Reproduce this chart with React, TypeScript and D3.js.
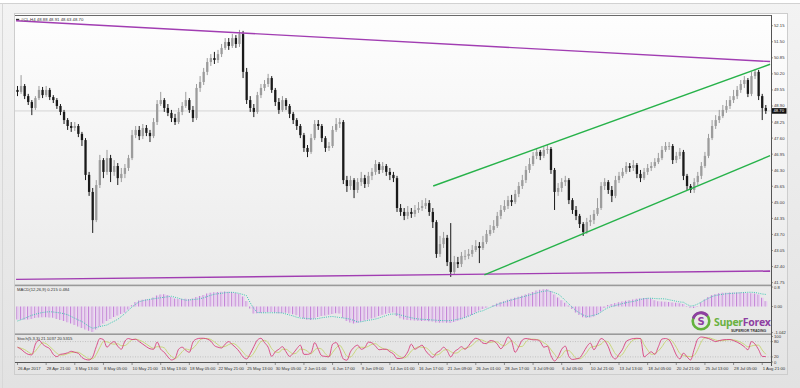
import React from 'react';
import * as d3 from 'd3';

const W = 800;
const H = 388;

const firstOpen = 49.55;

const closes = [
  49.47,49.71,49.30,49.06,48.82,49.22,49.55,49.34,49.55,49.26,
  49.14,48.90,48.66,48.33,48.09,48.01,48.09,47.77,47.52,46.11,
  45.42,44.28,45.70,46.71,46.23,46.79,46.23,46.47,45.98,46.15,
  46.39,46.79,47.72,47.93,47.68,48.01,47.81,47.68,48.25,48.98,
  49.14,48.82,48.62,48.41,48.25,48.66,48.90,49.14,48.74,48.41,
  49.63,49.87,50.28,50.68,50.84,50.76,51.00,51.25,51.49,51.33,
  51.65,51.41,51.81,50.28,49.14,48.82,48.66,49.34,49.63,49.79,
  50.03,49.55,49.06,48.74,49.14,48.90,48.58,48.33,48.09,47.72,
  47.20,47.04,47.60,48.17,48.09,47.60,47.20,47.28,47.93,48.17,
  48.25,45.90,45.66,45.90,45.50,45.82,45.98,45.74,46.07,46.23,
  46.55,46.31,46.47,46.23,46.11,45.98,44.77,44.61,44.45,44.61,
  44.53,44.69,44.77,44.85,44.97,44.61,44.20,42.91,43.31,43.56,
  42.58,42.18,42.58,42.50,42.83,42.83,42.91,43.07,43.23,43.15,
  43.39,43.72,43.88,44.04,44.45,44.69,44.85,45.09,45.01,45.34,
  45.66,45.90,46.31,46.55,46.88,47.04,46.88,47.12,47.16,46.31,
  45.42,45.58,45.82,45.90,45.09,44.69,44.45,44.12,43.80,44.20,
  44.28,44.53,44.77,45.66,45.82,45.50,45.26,45.90,46.07,46.23,
  46.47,46.39,46.51,46.15,45.98,46.23,46.39,46.47,46.63,46.79,
  47.12,47.28,47.28,46.71,46.88,47.04,46.07,45.66,45.50,45.82,
  46.07,46.47,46.88,47.60,48.09,48.33,48.49,48.74,48.90,49.14,
  49.30,49.55,49.79,49.95,49.39,50.11,50.28,49.30,48.82,48.70,
];

const highs = [
  49.71,50.15,49.79,49.39,49.14,49.30,49.71,49.67,49.71,49.63,
  49.34,49.22,48.98,48.74,48.41,48.25,48.25,48.17,47.85,47.60,
  46.23,45.58,45.90,46.92,46.79,47.12,46.92,46.71,46.59,46.39,
  46.55,46.92,47.93,48.09,48.09,48.17,48.13,47.93,48.41,49.14,
  49.47,49.22,48.98,48.74,48.58,48.82,49.06,49.47,49.22,48.90,
  49.79,50.11,50.44,50.84,51.00,51.09,51.17,51.41,51.65,51.65,
  51.81,51.77,51.98,51.94,50.44,49.30,48.98,49.47,49.79,49.95,
  50.20,50.11,49.63,49.22,49.30,49.22,48.98,48.66,48.41,48.17,
  47.81,47.32,47.77,48.33,48.33,48.17,47.68,47.44,48.09,48.41,
  48.41,48.33,46.07,46.07,45.98,45.98,46.23,46.11,46.23,46.39,
  46.71,46.63,46.63,46.55,46.39,46.23,46.07,44.93,44.77,44.85,
  44.77,44.89,45.01,45.09,45.17,45.09,44.77,44.28,43.64,43.80,
  43.68,44.16,42.83,42.79,42.99,43.07,43.11,43.27,43.47,43.39,
  43.64,43.88,44.08,44.28,44.61,44.89,45.09,45.26,45.30,45.50,
  45.82,46.11,46.47,46.79,47.04,47.20,47.12,47.24,47.32,47.24,
  46.39,45.78,45.98,46.07,45.98,45.17,44.85,44.53,44.20,44.37,
  44.49,44.69,45.17,45.82,45.98,45.90,45.66,46.07,46.23,46.39,
  46.63,46.59,46.71,46.59,46.31,46.39,46.55,46.63,46.79,47.00,
  47.28,47.44,47.44,47.36,47.04,47.20,47.12,46.15,45.74,45.98,
  46.23,46.63,47.04,47.77,48.33,48.53,48.74,48.94,49.14,49.30,
  49.55,49.71,49.95,50.11,50.03,50.28,50.40,50.36,49.39,48.94,
];

const lows = [
  49.30,49.39,49.18,48.94,48.53,48.74,49.14,49.22,49.26,49.14,
  49.02,48.78,48.53,48.17,47.93,47.85,47.89,47.64,47.28,45.90,
  45.26,43.76,44.20,45.58,45.98,46.11,45.82,46.07,45.70,45.82,
  45.98,46.27,46.71,47.60,47.52,47.56,47.68,47.44,47.60,48.13,
  48.90,48.66,48.49,48.25,48.13,48.17,48.53,48.82,48.62,48.25,
  48.33,49.47,49.75,50.15,50.52,50.60,50.64,50.88,51.17,51.17,
  51.25,51.25,51.29,50.03,48.98,48.66,48.45,48.58,49.22,49.51,
  49.67,49.43,48.90,48.58,48.66,48.74,48.41,48.17,47.93,47.60,
  47.04,46.83,46.96,47.52,47.93,47.44,47.04,47.08,47.20,47.85,
  48.01,45.74,45.42,45.50,45.17,45.38,45.66,45.58,45.62,45.90,
  46.11,46.15,46.19,46.07,45.90,45.82,44.61,44.45,44.28,44.32,
  44.37,44.41,44.57,44.65,44.73,44.45,43.96,42.75,42.79,43.15,
  42.42,41.98,42.06,42.34,42.38,42.66,42.70,42.79,42.99,42.54,
  43.07,43.31,43.64,43.76,43.96,44.32,44.61,44.73,44.85,44.93,
  45.21,45.54,45.78,46.19,46.47,46.75,46.71,46.79,46.96,46.15,
  44.69,45.26,45.42,45.66,44.93,44.53,44.28,43.96,43.64,43.72,
  44.04,44.12,44.45,44.69,45.50,45.34,45.01,45.17,45.78,45.98,
  46.15,46.23,46.27,45.98,45.82,45.90,46.11,46.27,46.39,46.55,
  46.71,47.04,47.12,46.55,46.59,46.75,45.90,45.50,45.38,45.38,
  45.70,45.94,46.39,46.79,47.52,47.97,48.21,48.41,48.62,48.78,
  49.02,49.18,49.43,49.63,49.26,49.30,49.99,49.14,48.33,48.58,
];

const macdMain = [
  -0.52,-0.53,-0.53,-0.52,-0.50,-0.46,-0.44,-0.43,-0.43,-0.44,
  -0.45,-0.50,-0.54,-0.58,-0.63,-0.68,-0.74,-0.80,-0.86,-0.92,
  -0.97,-1.02,-0.92,-0.80,-0.68,-0.58,-0.50,-0.42,-0.36,-0.30,
  -0.24,-0.12,0.05,0.18,0.24,0.27,0.29,0.30,0.36,0.44,
  0.48,0.49,0.46,0.38,0.32,0.30,0.30,0.31,0.30,0.32,
  0.38,0.42,0.46,0.52,0.55,0.57,0.58,0.59,0.60,0.59,
  0.58,0.54,0.50,0.40,0.22,-0.08,-0.28,-0.27,-0.25,-0.23,
  -0.22,-0.22,-0.24,-0.27,-0.26,-0.25,-0.28,-0.31,-0.35,-0.42,
  -0.48,-0.53,-0.54,-0.48,-0.42,-0.38,-0.36,-0.33,-0.30,-0.27,
  -0.28,-0.45,-0.58,-0.64,-0.68,-0.66,-0.60,-0.56,-0.52,-0.48,
  -0.44,-0.38,-0.33,-0.29,-0.26,-0.24,-0.38,-0.47,-0.52,-0.54,
  -0.55,-0.56,-0.57,-0.58,-0.58,-0.59,-0.60,-0.64,-0.65,-0.64,
  -0.65,-0.66,-0.62,-0.57,-0.52,-0.46,-0.40,-0.34,-0.24,-0.16,
  -0.10,-0.05,0.00,0.06,0.12,0.18,0.22,0.27,0.31,0.35,
  0.39,0.43,0.48,0.53,0.58,0.64,0.67,0.69,0.70,0.62,
  0.48,0.36,0.25,0.15,0.04,-0.10,-0.24,-0.34,-0.43,-0.46,
  -0.44,-0.40,-0.33,-0.20,-0.06,0.06,0.10,0.14,0.17,0.20,
  0.23,0.25,0.28,0.31,0.33,0.34,0.34,0.32,0.25,0.21,
  0.20,0.19,0.18,0.16,0.15,0.13,0.10,0.02,-0.05,-0.06,
  0.02,0.16,0.28,0.38,0.45,0.50,0.53,0.55,0.55,0.56,
  0.56,0.56,0.56,0.55,0.54,0.53,0.52,0.48,0.35,0.215,
];

const macdSignal = [
  -0.58,-0.53,-0.47,-0.41,-0.35,-0.31,-0.27,-0.24,-0.22,-0.21,
  -0.22,-0.24,-0.26,-0.29,-0.33,-0.40,-0.47,-0.54,-0.60,-0.70,
  -0.80,-0.87,-0.84,-0.80,-0.77,-0.74,-0.66,-0.59,-0.51,-0.40,
  -0.28,-0.15,-0.02,0.09,0.19,0.23,0.26,0.29,0.31,0.33,
  0.35,0.37,0.39,0.41,0.37,0.33,0.29,0.25,0.26,0.28,
  0.29,0.31,0.35,0.40,0.45,0.49,0.51,0.53,0.55,0.56,
  0.57,0.55,0.52,0.48,0.43,0.15,-0.08,-0.24,-0.25,-0.25,
  -0.25,-0.25,-0.25,-0.25,-0.26,-0.30,-0.34,-0.38,-0.43,-0.46,
  -0.47,-0.48,-0.49,-0.50,-0.48,-0.45,-0.43,-0.41,-0.40,-0.42,
  -0.44,-0.46,-0.48,-0.51,-0.56,-0.62,-0.61,-0.58,-0.55,-0.53,
  -0.50,-0.46,-0.41,-0.36,-0.31,-0.30,-0.30,-0.34,-0.38,-0.42,
  -0.45,-0.48,-0.50,-0.51,-0.52,-0.53,-0.54,-0.55,-0.56,-0.56,
  -0.57,-0.56,-0.54,-0.51,-0.48,-0.44,-0.38,-0.32,-0.26,-0.20,
  -0.17,-0.10,-0.04,0.02,0.08,0.13,0.17,0.22,0.26,0.30,
  0.34,0.38,0.42,0.46,0.50,0.54,0.58,0.61,0.63,0.60,
  0.55,0.50,0.38,0.24,0.10,-0.03,-0.17,-0.26,-0.34,-0.40,
  -0.38,-0.35,-0.31,-0.22,-0.12,-0.04,0.00,0.04,0.08,0.12,
  0.15,0.18,0.20,0.24,0.28,0.31,0.33,0.33,0.32,0.31,
  0.31,0.30,0.27,0.24,0.21,0.18,0.17,0.08,0.02,0.04,
  0.10,0.18,0.26,0.33,0.40,0.44,0.47,0.49,0.51,0.52,
  0.53,0.54,0.55,0.56,0.57,0.57,0.56,0.53,0.50,0.484,
];

const stochMain = [
  58,50,38,30,28,70,86,70,60,52,
  30,21,30,32,36,42,38,34,18,10,
  8,20,60,92,88,58,72,80,62,50,
  82,92,88,89,80,70,60,52,50,78,
  50,38,20,8,14,50,58,46,38,78,
  90,93,93,90,82,64,58,55,70,80,
  68,56,40,20,12,32,60,86,93,76,
  58,22,40,50,60,40,22,34,52,66,
  30,30,36,76,50,24,22,20,70,76,
  50,12,7,40,58,66,50,56,78,75,
  62,48,50,50,40,32,14,14,20,40,
  70,50,58,66,44,28,18,36,44,58,
  44,20,40,50,60,50,64,82,93,88,
  74,72,84,82,70,52,70,98,82,38,
  60,86,92,90,87,87,80,58,62,25,
  4,20,50,62,22,10,12,16,36,60,
  74,48,70,92,84,60,24,12,30,50,
  80,88,92,93,92,20,30,40,30,60,
  90,92,86,60,28,12,35,20,8,50,
  90,98,96,92,86,80,84,87,88,88,
  84,78,70,60,48,80,70,48,22,21.1,
];

// Stoch(5,3,3) signal line: 3-bar moving average of the main line, as the indicator defines it
const stochSignal = stochMain.map((_, i) => {
  const w = stochMain.slice(Math.max(0, i - 2), i + 1);
  return d3.mean(w) as number;
});

const priceTicks = [
  '52.15','51.50','50.85','50.20','49.55','48.90','48.25','47.60','46.95',
  '46.30','45.65','45.00','44.35','43.70','43.05','42.40','41.75',
];

const timeLabels = [
  '26 Apr 2017','28 Apr 21:00','3 May 13:00','8 May 05:00','10 May 21:00',
  '15 May 13:00','18 May 05:00','22 May 21:00','25 May 13:00','30 May 05:00',
  '2 Jun 01:00','6 Jun 17:00','9 Jun 09:00','14 Jun 01:00','16 Jun 17:00',
  '21 Jun 09:00','26 Jun 01:00','28 Jun 17:00','3 Jul 09:00','6 Jul 05:00',
  '10 Jul 21:00','13 Jul 13:00','18 Jul 05:00','20 Jul 21:00','25 Jul 13:00',
  '28 Jul 05:00','1 Aug 21:00',
];
const barsPerLabel = 8;

// trend lines: [bar index, price]
const resistanceLine = [[-0.4, 52.35], [210.2, 50.70]];
const supportLine = [[-0.4, 41.88], [210.2, 42.22]];
const channelTop = [[116.1, 45.66], [210.2, 50.59]];
const channelBottom = [[130.4, 42.06], [210.2, 46.89]];

const macdLevels = ['0.8', '0.00', '-1.042'];
const macdLevelValues = [0.78, 0, -1.042];
const stochLevels = ['100', '80', '20', '0'];
const stochLevelValues = [100, 80, 20, 0];

const headerText = '#CL,H4  48.88 48.91 48.63 48.70';
const macdText = 'MACD(12,26,9) 0.215 0.484';
const stochText = 'Stoch(5,3,3) 21.1037 20.5315';

const FONT = 'Liberation Sans, Arial, sans-serif';

export default function App() {
  const L = 15, R = 771;
  const n = closes.length;
  const x = d3.scaleLinear().domain([0, n - 1]).range([17.5, 765.8]);
  const yP = d3.scaleLinear().domain([41.75, 52.15]).range([282.6, 25.7]);
  const yM = d3.scaleLinear().domain([-1.06, 0.78]).range([333, 287]);
  const yS = d3.scaleLinear().domain([0, 100]).range([362, 336.5]);

  const opens = closes.map((c, i) => (i === 0 ? firstOpen : closes[i - 1]));

  const lineGen = d3.line<number[]>().x(d => x(d[0])).y(d => yP(d[1]));
  const sigLine = d3.line<number>().x((_, i) => x(i)).y(d => yM(d));
  const stLine = d3.line<number>().x((_, i) => x(i)).y(d => yS(d)).curve(d3.curveMonotoneX);

  const lastClose = closes[n - 1];

  return (
    <svg width={W} height={H} style={{ position: 'absolute', left: 0, top: 0 }} fontFamily={FONT}>
      <defs>
        <linearGradient id="bg" x1="0" y1="0" x2="0" y2="1">
          <stop offset="0" stopColor="#fefefe" />
          <stop offset="1" stopColor="#e4e4e4" />
        </linearGradient>
        <linearGradient id="outer" x1="0" y1="0" x2="0" y2="1">
          <stop offset="0" stopColor="#f3f3f3" />
          <stop offset="1" stopColor="#e2e2e2" />
        </linearGradient>
        <clipPath id="pc"><rect x={L} y={15.5} width={R - L} height={269} /></clipPath>
        <clipPath id="mc"><rect x={L} y={286} width={R - L} height={47.5} /></clipPath>
        <clipPath id="sc"><rect x={L} y={335} width={R - L} height={27.5} /></clipPath>
      </defs>
      <rect x={0} y={0} width={W} height={H} fill="url(#outer)" />
      <rect x={0} y={0} width={W} height={3} fill="#ffffff" />
      <line x1={0} x2={W} y1={3.5} y2={3.5} stroke="#d2d2d2" />
      <line x1={2.5} x2={2.5} y1={3.5} y2={H} stroke="#d8d8d8" />
      <rect x={14.5} y={13.5} width={773} height={361} fill="url(#bg)" stroke="#cdcdcd" />

      {/* price panel */}
      <line x1={L} x2={R} y1={15.5} y2={15.5} stroke="#6a6a6a" />
      <line x1={L} x2={R} y1={yP(lastClose)} y2={yP(lastClose)} stroke="#cccccc" strokeWidth={0.8} />
      <g clipPath="url(#pc)">
        {closes.map((c, i) => {
          const o = opens[i];
          const up = c >= o;
          const col = up ? '#9c9c9c' : '#1a1a1a';
          const top = yP(Math.max(o, c));
          const bot = yP(Math.min(o, c));
          return (
            <g key={i}>
              <line x1={x(i)} x2={x(i)} y1={yP(highs[i])} y2={yP(lows[i])} stroke={col} strokeWidth={1} />
              <rect x={x(i) - 1.15} y={top} width={2.3} height={Math.max(0.8, bot - top)} fill={col} />
            </g>
          );
        })}
        <path d={lineGen(resistanceLine) || ''} stroke="#a13db2" strokeWidth={1.4} fill="none" />
        <path d={lineGen(supportLine) || ''} stroke="#a13db2" strokeWidth={1.4} fill="none" />
        <path d={lineGen(channelTop) || ''} stroke="#27b24a" strokeWidth={1.4} fill="none" />
        <path d={lineGen(channelBottom) || ''} stroke="#27b24a" strokeWidth={1.4} fill="none" />
      </g>
      <rect x={16} y={18.8} width={3.2} height={1.3} fill="#333" />
      <text x={21} y={21.2} fontSize={4.3} fill="#333">{headerText}</text>

      {/* price axis */}
      {priceTicks.map(t => (
        <g key={t}>
          <line x1={R} x2={R + 2} y1={yP(+t)} y2={yP(+t)} stroke="#555" strokeWidth={0.6} />
          <text x={R + 3} y={yP(+t) + 1.5} fontSize={4.2} fill="#333">{t}</text>
        </g>
      ))}
      <rect x={R + 1} y={yP(lastClose) - 2.8} width={14.5} height={5.6} fill="#111" />
      <text x={R + 2.5} y={yP(lastClose) + 1.5} fontSize={4.2} fill="#fff">{lastClose.toFixed(2)}</text>

      {/* separators */}
      <rect x={L} y={284.6} width={R - L} height={1.6} fill="#9a9a9a" />
      <rect x={L} y={333.4} width={R - L} height={1.6} fill="#9a9a9a" />

      {/* MACD */}
      <g clipPath="url(#mc)">
        {macdMain.map((v, i) => {
          const y0 = yM(0);
          const y1 = yM(v);
          return (
            <g key={i}>
              <rect x={x(i) - 1.2} y={Math.min(y0, y1)} width={1.1} height={Math.abs(y1 - y0)} fill="#c486d6" />
              <rect x={x(i) - 0.1} y={Math.min(y0, y1)} width={1.6} height={Math.abs(y1 - y0)} fill="#e8ccf2" />
            </g>
          );
        })}
        <path d={sigLine(macdSignal) || ''} stroke="#3cc6b2" strokeWidth={1} strokeDasharray="1,1.2" fill="none" />
      </g>
      <text x={17} y={291} fontSize={4.2} fill="#333">{macdText}</text>
      {macdLevels.map((t, k) => (
        <g key={t}>
          <line x1={R} x2={R + 2} y1={yM(macdLevelValues[k])} y2={yM(macdLevelValues[k])} stroke="#555" strokeWidth={0.6} />
          <text x={R + 3} y={yM(macdLevelValues[k]) + 1.5} fontSize={4.2} fill="#333">{t}</text>
        </g>
      ))}

      {/* logo */}
      <g>
        <circle cx={701} cy={321} r={8.3} fill="none" stroke="#63b23c" strokeWidth={2.6} />
        <path d="M 693.2 318.5 A 8.3 8.3 0 0 1 707.5 315.8" fill="none" stroke="#8e3fa2" strokeWidth={2.8} />
        <text x={701} y={324.6} textAnchor="middle" fontSize={10} fontWeight="bold" fill="#8e3fa2" fontFamily="DejaVu Sans, sans-serif">S</text>
        <text x={714} y={325.5} fontSize={10.5} fontWeight="bold" fill="#6ab140" fontFamily="Open Sans, sans-serif" letterSpacing={-0.3}>Super<tspan fill="#8e3fa2">Forex</tspan></text>
        <text x={731} y={332.3} fontSize={3.5} fontWeight="bold" fill="#333">SUPERIOR TRADING</text>
      </g>

      {/* Stochastic */}
      <g clipPath="url(#sc)">
        <line x1={L} x2={R} y1={yS(80)} y2={yS(80)} stroke="#a8a8a8" strokeWidth={0.6} strokeDasharray="1,1.5" />
        <line x1={L} x2={R} y1={yS(20)} y2={yS(20)} stroke="#a8a8a8" strokeWidth={0.6} strokeDasharray="1,1.5" />
        <path d={stLine(stochSignal) || ''} stroke="#c9d67a" strokeWidth={1} fill="none" />
        <path d={stLine(stochMain) || ''} stroke="#d8407e" strokeWidth={0.9} fill="none" />
      </g>
      <text x={17} y={339.6} fontSize={4.2} fill="#333">{stochText}</text>
      {stochLevels.map((t, k) => (
        <g key={t}>
          <line x1={R} x2={R + 2} y1={yS(stochLevelValues[k])} y2={yS(stochLevelValues[k])} stroke="#555" strokeWidth={0.6} />
          <text x={R + 3} y={yS(stochLevelValues[k]) + 1.5} fontSize={4.2} fill="#333">{t}</text>
        </g>
      ))}

      {/* axes frame */}
      <line x1={R + 0.5} x2={R + 0.5} y1={15} y2={366} stroke="#555" />
      <line x1={L} x2={R} y1={362.5} y2={362.5} stroke="#555" />
      {timeLabels.map((t, k) => {
        const xi = x(k * barsPerLabel);
        return (
          <g key={t}>
            <line x1={xi} x2={xi} y1={362.5} y2={365} stroke="#555" strokeWidth={0.6} />
            <text x={xi + 0.5} y={369.5} fontSize={4.2} fill="#333">{t}</text>
          </g>
        );
      })}
    </svg>
  );
}
